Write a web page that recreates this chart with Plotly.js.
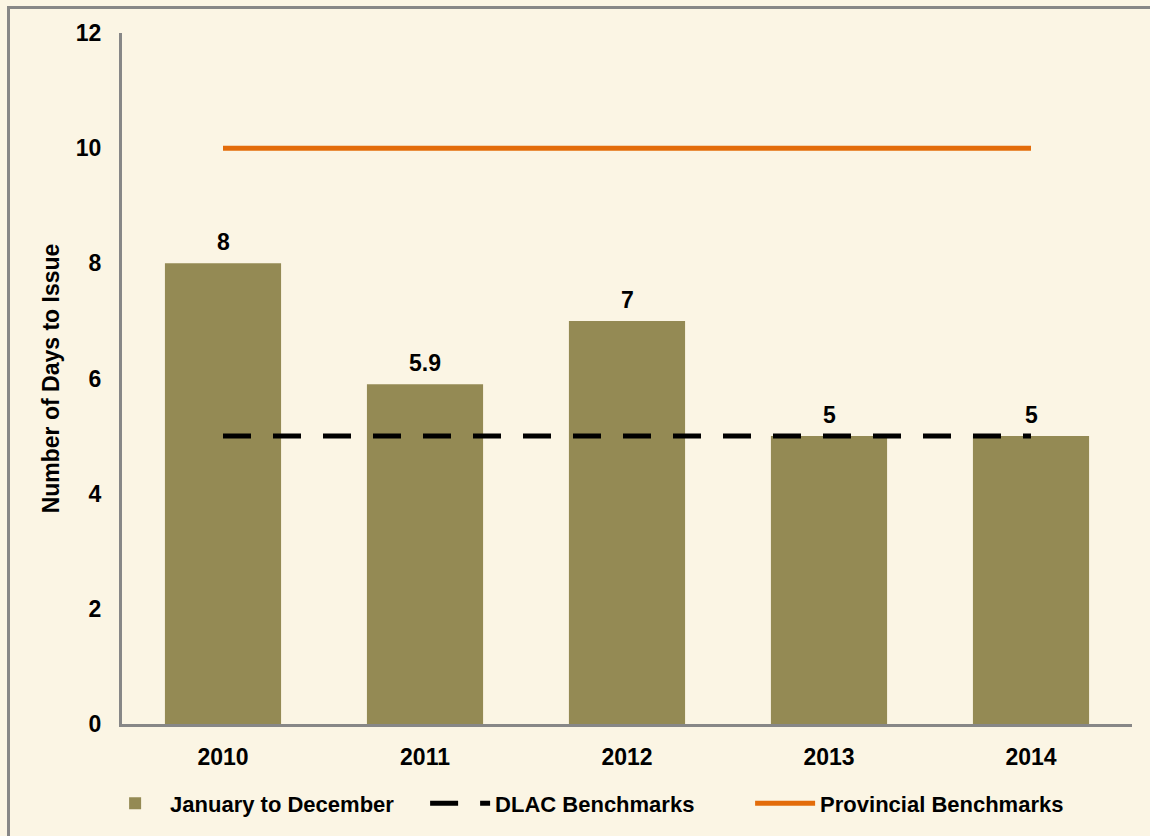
<!DOCTYPE html>
<html>
<head>
<meta charset="utf-8">
<script src="https://cdn.plot.ly/plotly-3.0.1.min.js"></script>
<style>
  html, body { margin:0; padding:0; background:#FBF5E4; }
  #wrap { position:relative; width:1150px; height:836px; overflow:hidden; }
  #chart { position:absolute; left:0; top:0; width:1150px; height:836px; }
  #frame { position:absolute; left:7px; top:6px; width:1200px; height:900px;
           border-left:3px solid #878787; border-top:3px solid #878787; pointer-events:none; }
</style>
</head>
<body>
<div id="wrap">
  <div id="chart"></div>
  <div id="frame"></div>
</div>
<script>
const years = ['2010', '2011', '2012', '2013', '2014'];
const daysToIssue = [8, 5.9, 7, 5, 5];
const dlacBenchmark = [5, 5, 5, 5, 5];
const provincialBenchmark = [10, 10, 10, 10, 10];
const yTicks = [0, 2, 4, 6, 8, 10, 12];

const FAM = 'Liberation Sans, Arial, sans-serif';
const tickFont = {family: FAM, size: 23, color: '#000000', weight: 'bold'};

const traces = [
  {
    type: 'bar', name: 'January to December', x: years, y: daysToIssue,
    marker: {color: '#948A54'}, width: 0.575, hoverinfo: 'x+y'
  },
  {
    type: 'scatter', mode: 'lines', name: 'DLAC Benchmarks', x: years, y: dlacBenchmark,
    line: {color: '#000000', width: 5, dash: '28px,22px'}
  },
  {
    type: 'scatter', mode: 'lines', name: 'Provincial Benchmarks', x: years, y: provincialBenchmark,
    line: {color: '#E36C0A', width: 5}
  }
];

// value labels above the bars, positioned by category index on the category axis
const labels = daysToIssue.map((v, i) => ({
  x: i, y: v, xref: 'x', yref: 'y',
  text: String(v), showarrow: false,
  yanchor: 'bottom', yshift: 6,
  font: {family: FAM, size: 23, color: '#000000', weight: 'bold'}
}));

const layout = {
  width: 1150, height: 836,
  paper_bgcolor: 'rgba(0,0,0,0)', plot_bgcolor: 'rgba(0,0,0,0)',
  margin: {l: 122, r: 18, t: 33, b: 109},
  bargap: 0.425,
  showlegend: true,
  annotations: labels,
  legend: {
    orientation: 'h', x: 0.461, xanchor: 'center', y: -0.115, yanchor: 'middle',
    font: {family: FAM, size: 22, color: '#000', weight: 'bold'},
    bgcolor: 'rgba(0,0,0,0)', traceorder: 'normal', itemwidth: 60,
    entrywidth: 250
  },
  xaxis: {
    type: 'category', categoryorder: 'array', categoryarray: years,
    range: [-0.5, years.length - 0.5], autorange: false,
    showgrid: false, zeroline: false,
    showline: true, linecolor: '#878787', linewidth: 3,
    ticks: '', ticklabelstandoff: 10, tickfont: tickFont, fixedrange: true
  },
  yaxis: {
    range: [0, 12], autorange: false, tickvals: yTicks, ticktext: yTicks.map(String),
    showgrid: false, zeroline: false, showline: true, linecolor: '#878787', linewidth: 3,
    ticks: '', ticklabelstandoff: 13, tickfont: tickFont, fixedrange: true,
    title: {text: 'Number of Days to Issue', standoff: 10,
            font: {family: FAM, size: 23, color: '#000', weight: 'bold'}}
  }
};

Plotly.newPlot('chart', traces, layout, {displayModeBar: false, staticPlot: true});
</script>
</body>
</html>
